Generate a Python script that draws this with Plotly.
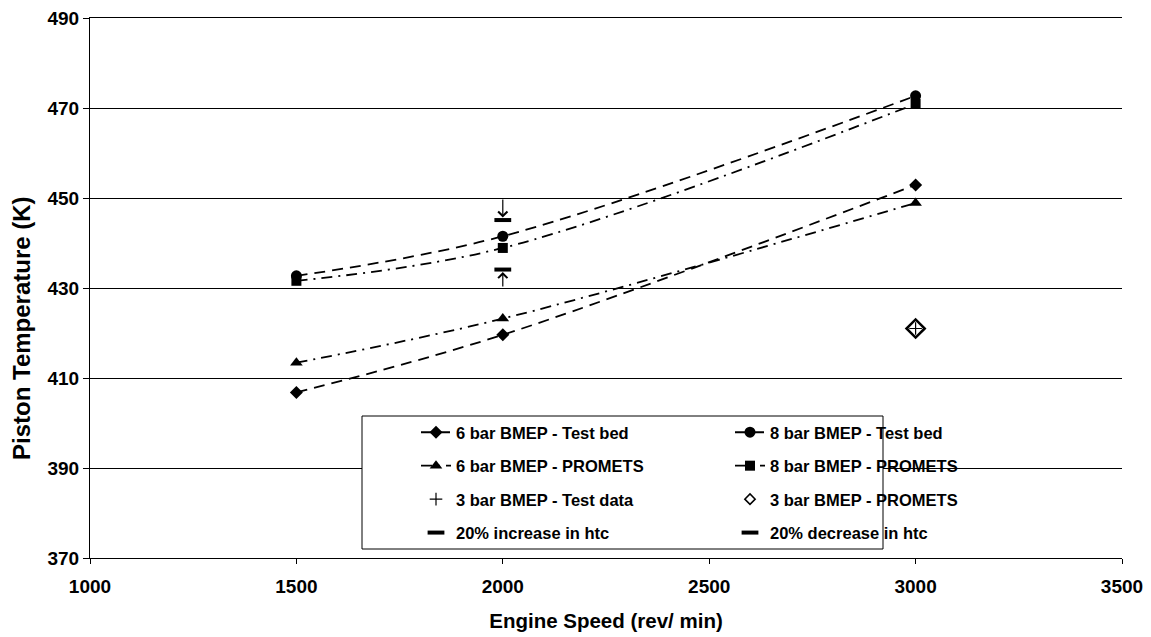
import plotly.graph_objects as go

# ---- data ----
speeds = [1500, 2000, 3000]
t6_test = [406.8, 419.6, 452.9]
t6_prom = [413.4, 423.2, 448.9]
t8_test = [432.7, 441.5, 472.7]
t8_prom = [431.6, 438.9, 470.9]
speed_3bar = [3000]
t3_test = [421.0]
t3_prom = [421.0]
speed_htc = [2000]
htc_inc = [434.1]
htc_dec = [445.1]
htc_ref_inc = [430]
htc_ref_dec = [450]
x_ticks = [1000, 1500, 2000, 2500, 3000, 3500]
y_ticks = [370, 390, 410, 430, 450, 470, 490]

FONT = "Liberation Sans, Arial, sans-serif"
OFF = 8  # page body margin
W, H = 1151, 637
L, R, T, B = 90 - OFF, W + OFF - 1122, 18 - OFF, H + OFF - 558

fig = go.Figure()

def line_trace(x, y, name, sym, size, dash, legend):
    return go.Scatter(
        x=x, y=y, name=name, mode="lines+markers",
        line=dict(color="black", width=1.8, dash=dash, shape="spline"),
        marker=dict(symbol=sym, size=size, color="black"),
        legend=legend, legendgroup=name,
    )

DASH = "11px,7px"
DASHDOT = "11px,6px,2px,6px"

fig.add_trace(line_trace(speeds, t6_test, "6 bar BMEP - Test bed", "diamond", 10, DASH, "legend"))
fig.add_trace(line_trace(speeds, t8_test, "8 bar BMEP - Test bed", "circle", 11, DASH, "legend2"))
fig.add_trace(line_trace(speeds, t6_prom, "6 bar BMEP - PROMETS", "triangle-up", 11, DASHDOT, "legend"))
fig.add_trace(line_trace(speeds, t8_prom, "8 bar BMEP - PROMETS", "square", 10, DASHDOT, "legend2"))

fig.add_trace(go.Scatter(
    x=speed_3bar, y=t3_test, name="3 bar BMEP - Test data", mode="markers",
    marker=dict(symbol="cross-thin-open", size=9, color="black", line=dict(width=1.2, color="black")),
    legend="legend", legendgroup="3t"))
fig.add_trace(go.Scatter(
    x=speed_3bar, y=t3_prom, name="3 bar BMEP - PROMETS", mode="markers",
    marker=dict(symbol="diamond-open", size=14, color="black", line=dict(width=2.5, color="black")),
    showlegend=False, legendgroup="3p"))
# legend entry (smaller symbol, as in the original legend)
fig.add_trace(go.Scatter(
    x=[None], y=[None], name="3 bar BMEP - PROMETS", mode="markers",
    marker=dict(symbol="diamond-open", size=8, color="black", line=dict(width=1.5, color="black")),
    legend="legend2", legendgroup="3p"))
fig.add_trace(go.Scatter(
    x=speed_htc, y=htc_inc, name="20% increase in htc", mode="markers",
    marker=dict(symbol="line-ew-open", size=12, color="black", line=dict(width=4, color="black")),
    legend="legend", legendgroup="hi"))
fig.add_trace(go.Scatter(
    x=speed_htc, y=htc_dec, name="20% decrease in htc", mode="markers",
    marker=dict(symbol="line-ew-open", size=12, color="black", line=dict(width=4, color="black")),
    legend="legend2", legendgroup="hd"))

# arrows from gridline to htc markers (open V heads)
for xs, ys, refs in [(speed_htc, htc_dec, htc_ref_dec), (speed_htc, htc_inc, htc_ref_inc)]:
    for xv, yv, rv in zip(xs, ys, refs):
        off = 0.55 if rv > yv else -0.55
        fig.add_annotation(x=xv, y=yv + off, ax=xv, ay=rv, xref="x", yref="y",
                           axref="x", ayref="y", showarrow=True, arrowhead=4,
                           arrowsize=1.5, arrowwidth=1.2, arrowcolor="black", text="")

pw = W - L - R
ph = H - T - B
def px(xs):
    return (xs - OFF - L) / pw
def py(ys):
    return 1 - (ys - OFF - T) / ph

fig.add_shape(type="rect", xref="paper", yref="paper",
              x0=px(362), x1=px(883), y0=py(549), y1=py(416),
              line=dict(color="black", width=1), fillcolor="white", layer="above")

# y-axis title (placed as in the original, slightly below centre)
fig.add_annotation(text="Piston Temperature (K)", textangle=-90, showarrow=False,
                   xref="paper", yref="paper", x=px(21), y=py(328),
                   xanchor="center", yanchor="middle",
                   font=dict(family=FONT, size=24, color="black", weight="bold"))

legfont = dict(family=FONT, size=16.5, color="black", weight="bold")
common = dict(bgcolor="rgba(0,0,0,0)", borderwidth=0, font=legfont,
              tracegroupgap=9, xanchor="left", yanchor="top", orientation="v")

fig.update_layout(
    width=W, height=H,
    margin=dict(l=L, r=R, t=T, b=B),
    paper_bgcolor="white", plot_bgcolor="white",
    showlegend=True,
    legend=dict(x=px(416), y=py(415), **common),
    legend2=dict(x=px(730), y=py(415), **common),
    xaxis=dict(range=[1000, 3500], tickvals=x_ticks, showgrid=False,
               showline=True, linecolor="black", linewidth=1, mirror=True,
               ticks="outside", ticklen=5, tickcolor="black", automargin=False,
               ticklabelstandoff=6, ticklabeloverflow="allow",
               tickfont=dict(family=FONT, size=19, color="black", weight="bold"),
               title=dict(text="Engine Speed (rev/ min)", standoff=17,
                          font=dict(family=FONT, size=20.5, color="black", weight="bold")),
               zeroline=False),
    yaxis=dict(range=[370, 490], tickvals=y_ticks, showgrid=True,
               gridcolor="black", gridwidth=1, automargin=False,
               showline=True, linecolor="black", linewidth=1,
               ticks="outside", ticklen=6, tickcolor="black",
               ticklabeloverflow="allow",
               tickfont=dict(family=FONT, size=19, color="black", weight="bold"),
               zeroline=False),
)

fig.write_html("out.html")
